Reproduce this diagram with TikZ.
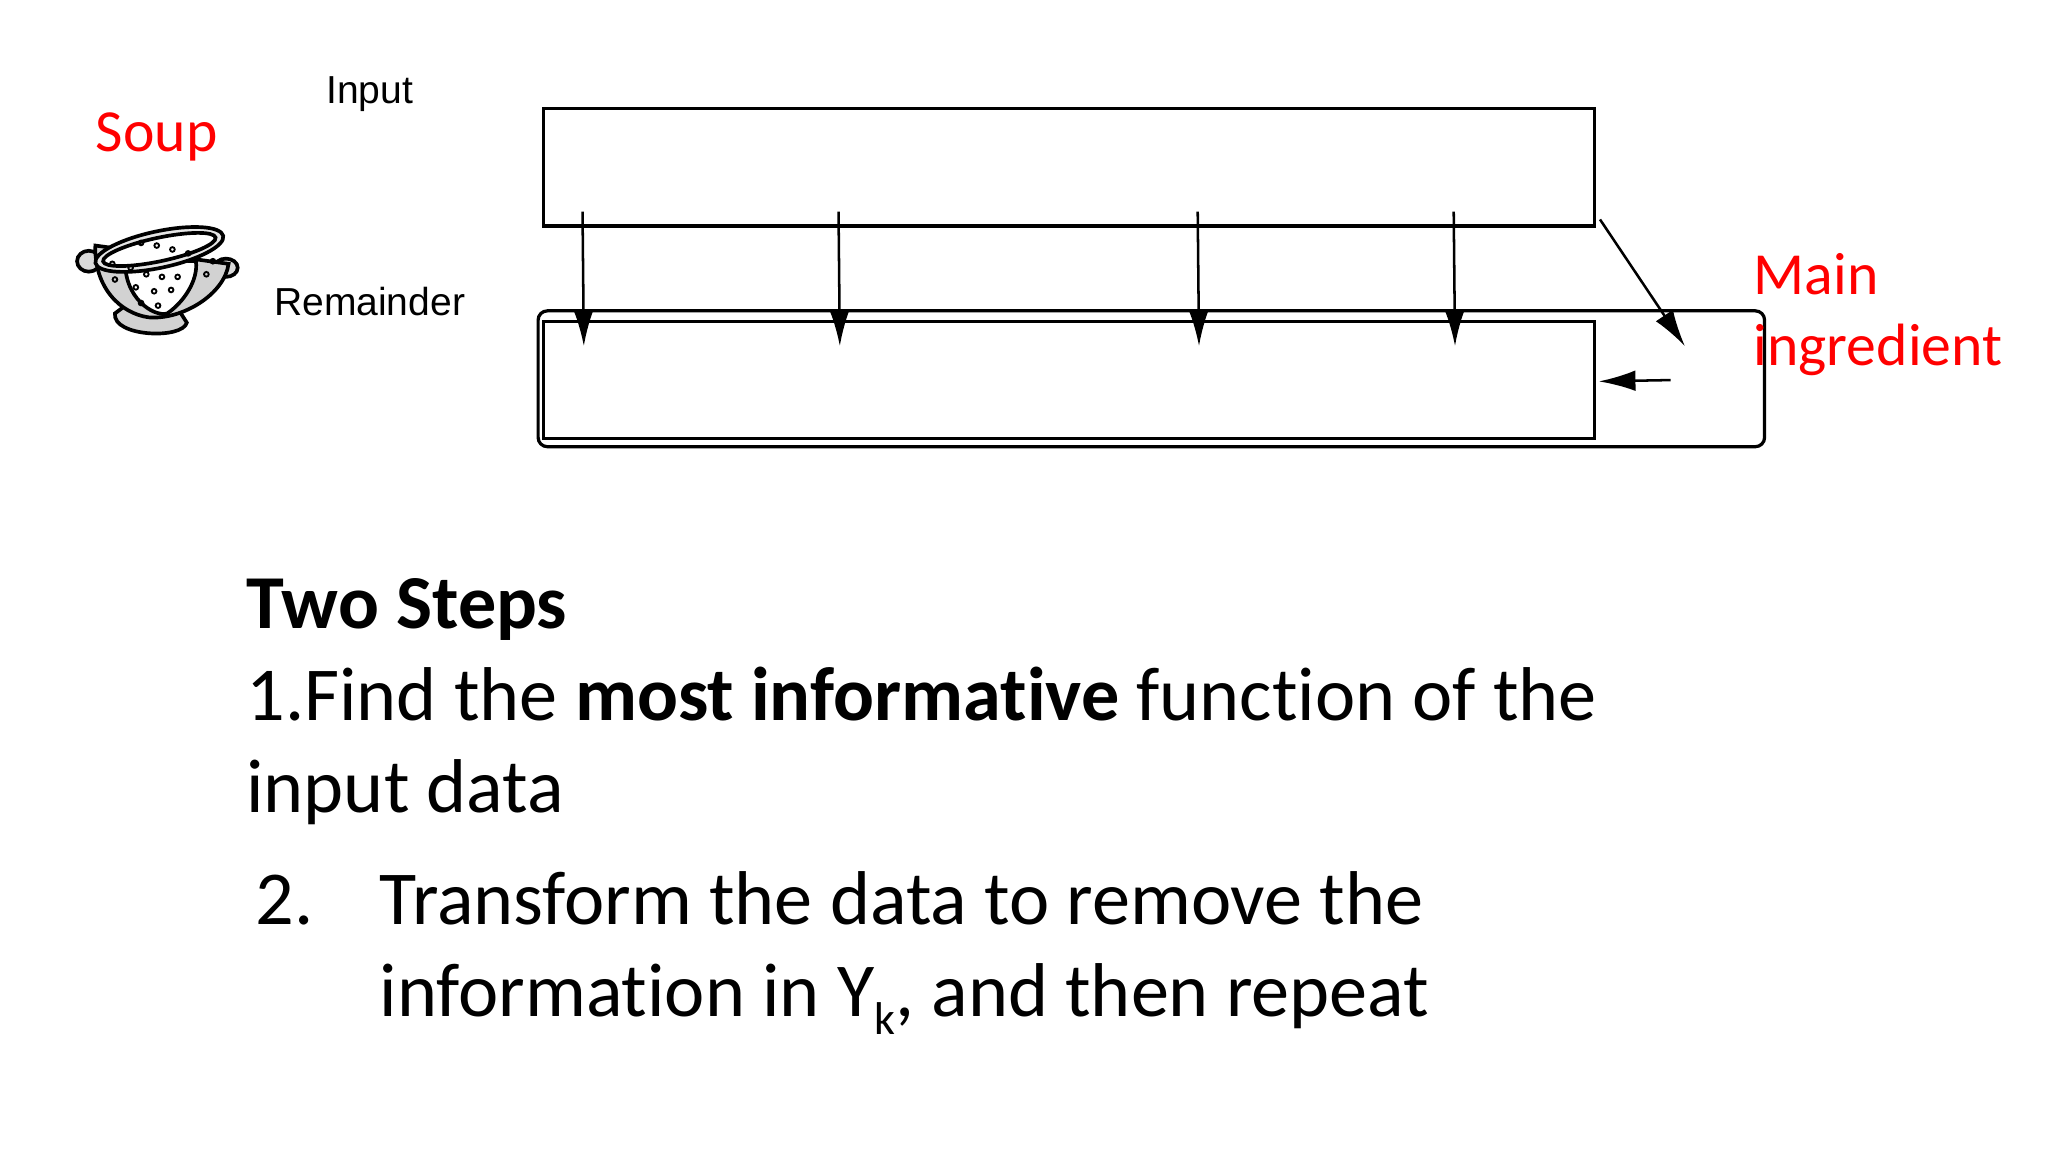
\documentclass[tikz,border=0pt]{standalone}
\usepackage{fontspec}
\setmainfont[Ligatures={NoCommon}]{Carlito}
\newfontfamily\arialf{Liberation Sans}
\usetikzlibrary{arrows.meta}
\begin{document}
\begin{tikzpicture}[x=0.01cm,y=-0.01cm,
  box/.style={draw,line width=0.7pt},
  arr/.style={-{Latex[length=8pt,width=4.5pt]},line width=0.55pt},
  red/.style={text=red,font=\fontsize{13pt}{15.6pt}\selectfont,inner sep=0},
  lab/.style={font=\arialf\fontsize{8.5pt}{9pt}\selectfont,inner sep=0},
  body/.style={font=\fontsize{16.6pt}{20pt}\selectfont,inner sep=0,anchor=base west}]
\useasboundingbox (0,0) rectangle (1568,882);
% boxes
\draw[box] (416,83) rectangle (1221,173);
\draw[box,rounded corners=2pt] (412,238) rectangle (1351,342);
\draw[box] (416,246) rectangle (1221,336);
\foreach \x [count=\i] in {446,642,917,1113}{
  \coordinate (s\i) at (\x,162); \coordinate (e\i) at (\x+1,265);
  \draw[arr] (s\i) -- (e\i);}
\coordinate (d1) at (1225,168); \coordinate (d2) at (1290,265);
\draw[arr] (d1) -- (d2);
\coordinate (h1) at (1279,291); \coordinate (h2) at (1224,292);
\draw[arr] (h1) -- (h2);
% labels
\node[red] (soup) at (120,105) {Soup};
\node[lab] (input) at (283,72) {Input};
\node[lab] (rem) at (283,231) {Remainder};
\node[red,align=left,anchor=north west] (main) at (1342,193) {Main\\ingredient};
% colander
\begin{scope}[line width=0.8pt]
\draw[fill=gray!30] (68,200) ellipse (9 and 8);
\draw[fill=gray!30] (173,205) ellipse (9 and 7);
\draw[fill=gray!35] (88,240) .. controls (86,258) and (140,260) .. (143,247) -- (136,236) -- (96,234) -- cycle;
\draw[fill=gray!35] (73,188) .. controls (72,220) and (92,240) .. (114,243) .. controls (140,245) and (172,225) .. (175,202) -- cycle;
\draw[fill=white] (96,198) .. controls (94,228) and (118,243) .. (128,240) .. controls (140,232) and (152,215) .. (150,200) -- cycle;
\draw[fill=gray!20,rotate around={12:(122,191)}] (122,191) ellipse (50 and 14);
\draw[fill=white,rotate around={12:(122,191)}] (122,191) ellipse (44 and 9);
\foreach \p in {(108,186),(120,188),(132,191),(144,194),(100,205),(112,210),(124,212),(136,212),(104,220),(118,223),(131,222),(108,232),(121,234),(88,214),(158,210),(163,200),(86,202)}
  \draw[line width=0.4pt] \p circle (1.8);
\end{scope}
% text
\node[body,font=\bfseries\fontsize{16.6pt}{20pt}\selectfont] (t0) at (188,481) {Two Steps};
\node[body] (t1) at (188,552) {1.Find the \textbf{most informative} function of the};
\node[body] (t2) at (188,622) {input data};
\node[body] (n2) at (195,708) {2.};
\node[body] (t3) at (290,708) {Transform the data to remove the};
\node[body] (t4) at (290,778) {information in Y\raisebox{-4pt}{\fontsize{10pt}{12pt}\selectfont k}, and then repeat};
\end{tikzpicture}
\end{document}
